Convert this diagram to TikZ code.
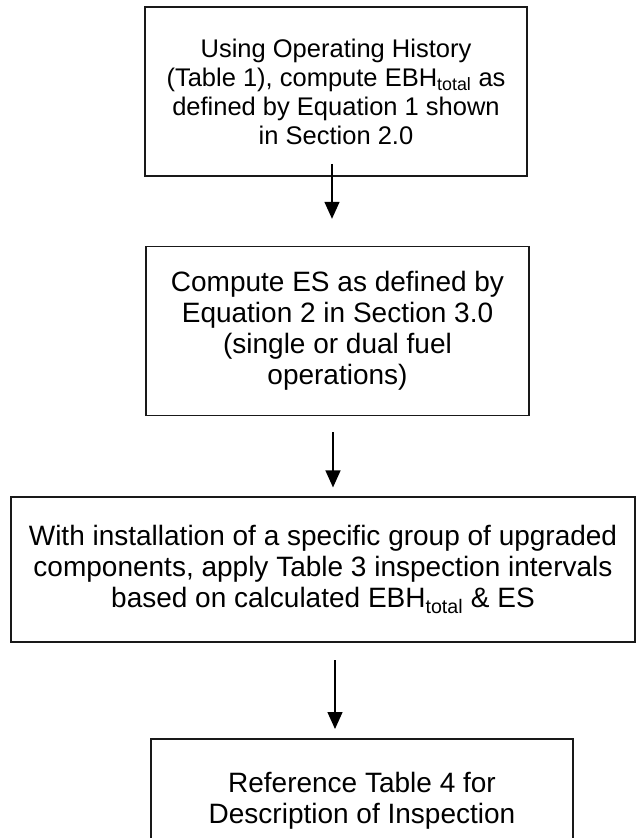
\documentclass[tikz,border=0pt]{standalone}
\usepackage{fontspec}
\setmainfont{Liberation Sans}
\usetikzlibrary{positioning,arrows.meta}

\begin{document}
\begin{tikzpicture}[x=1pt,y=-1pt,
block/.style = {rectangle, draw=black!90, line width=1.6pt, align=center,
	inner sep=0pt, font=\fontsize{28}{31}\selectfont},
line/.style ={draw, line width=1.4pt, -{Triangle[length=17pt,width=15pt]}}]

\useasboundingbox (0,0) rectangle (637,838);

\node [block, minimum width=382pt, minimum height=169pt,
	font=\fontsize{25.5}{29}\selectfont] (history) at (336,91.5)
	{Using Operating History\\(Table 1), compute EBH\textsubscript{total} as\\defined by Equation 1 shown\\in Section 2.0};
\node [block, minimum width=383pt, minimum height=169pt,
	below=69pt of history, xshift=1.5pt] (compute)
	{Compute ES as defined by\\Equation 2 in Section 3.0\\(single or dual fuel\\operations)};
\node [block, minimum width=624pt, minimum height=145pt,
	below=80pt of compute, xshift=-14.5pt] (apply)
	{With installation of a specific group of upgraded\\components, apply Table 3 inspection intervals\\based on calculated EBH\textsubscript{total} \& ES};
\node [block, minimum width=422pt, minimum height=123pt,
	below=95pt of apply, xshift=39pt] (reference)
	{Reference Table 4 for\\Description of Inspection};

\begin{scope}[every path/.style=line]
\path ([xshift=-4pt,yshift=13pt]history.south) -- ([xshift=-5.5pt,yshift=27pt]compute.north);
\path ([xshift=-4.5pt,yshift=-16pt]compute.south) -- ([xshift=10pt,yshift=9pt]apply.north);
\path ([xshift=12pt,yshift=-17pt]apply.south) -- ([xshift=-27pt,yshift=9pt]reference.north);
\end{scope}

\end{tikzpicture}
\end{document}
